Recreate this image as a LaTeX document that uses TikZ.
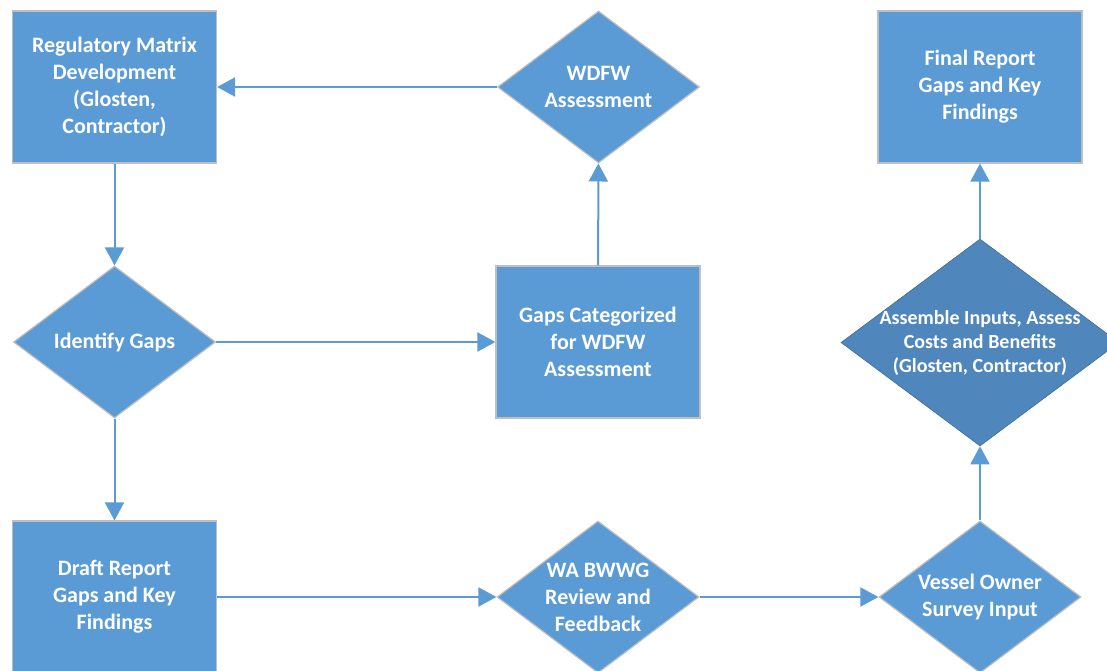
\documentclass[tikz,border=0pt]{standalone}
\usepackage{fontspec}
\setmainfont{Carlito}
\usetikzlibrary{shapes.geometric,arrows.meta}

\definecolor{flowblue}{HTML}{5B9BD5}
\definecolor{darkblue}{HTML}{4F87BC}
\definecolor{edgegray}{HTML}{BFBFBF}

\begin{document}
\begin{tikzpicture}[
  x = 1pt, y = -1pt,
  every node/.style = {text=white, font=\bfseries\fontsize{22}{27}\selectfont,
    align=center, inner sep=0pt},
  stepbox/.style = {rectangle, draw=edgegray, line width=1.2pt, fill=flowblue,
    minimum width=204pt, minimum height=152pt},
  decision/.style = {diamond, draw=edgegray, line width=1.2pt, fill=flowblue,
    minimum width=202pt, minimum height=152pt},
  flow/.style = {draw=flowblue, line width=2pt,
    -{Triangle[length=18pt,width=19pt]}},
  ]
  \clip (0,0) rectangle (1107,671);
  \fill[white] (0,0) rectangle (1107,671);

  \node[stepbox] (matrix) at (114.5,87)
    {Regulatory Matrix\\Development\\(Glosten,\\Contractor)};
  \node[decision, label=center:{WDFW\\Assessment}] (wdfw) at (598.5,87) {};
  \node[stepbox] (final) at (980,87)
    {Final Report\\Gaps and Key\\Findings};

  \node[decision, label=center:{Identify Gaps}] (identify) at (114.5,342) {};
  \node[stepbox] (categorized) at (598,342)
    {Gaps Categorized\\for WDFW\\Assessment};
  \node[decision, fill=darkblue, draw=darkblue!80!black, line width=0.6pt,
    minimum width=278pt, minimum height=207pt,
    label={[font=\bfseries\fontsize{20}{24}\selectfont]center:{Assemble Inputs, Assess\\
      Costs and Benefits\\(Glosten, Contractor)}}] (assemble) at (980,342.5) {};

  \node[stepbox] (draft) at (114.5,597)
    {Draft Report\\Gaps and Key\\Findings};
  \node[decision, label=center:{WA BWWG\\Review and\\Feedback}] (review)
    at (598,597) {};
  \node[decision, label=center:{Vessel Owner\\Survey Input}] (survey)
    at (980,597) {};

  \path[flow] (wdfw) -- (matrix);
  \path[flow] (matrix) -- (identify);
  \path[flow] (identify) -- (categorized);
  \path[flow] (categorized) -- (wdfw);
  \path[flow] (identify) -- (draft);
  \path[flow] (draft) -- (review);
  \path[flow] (review) -- (survey);
  \path[flow] (survey) -- (assemble);
  \path[flow] (assemble) -- (final);
\end{tikzpicture}
\end{document}
